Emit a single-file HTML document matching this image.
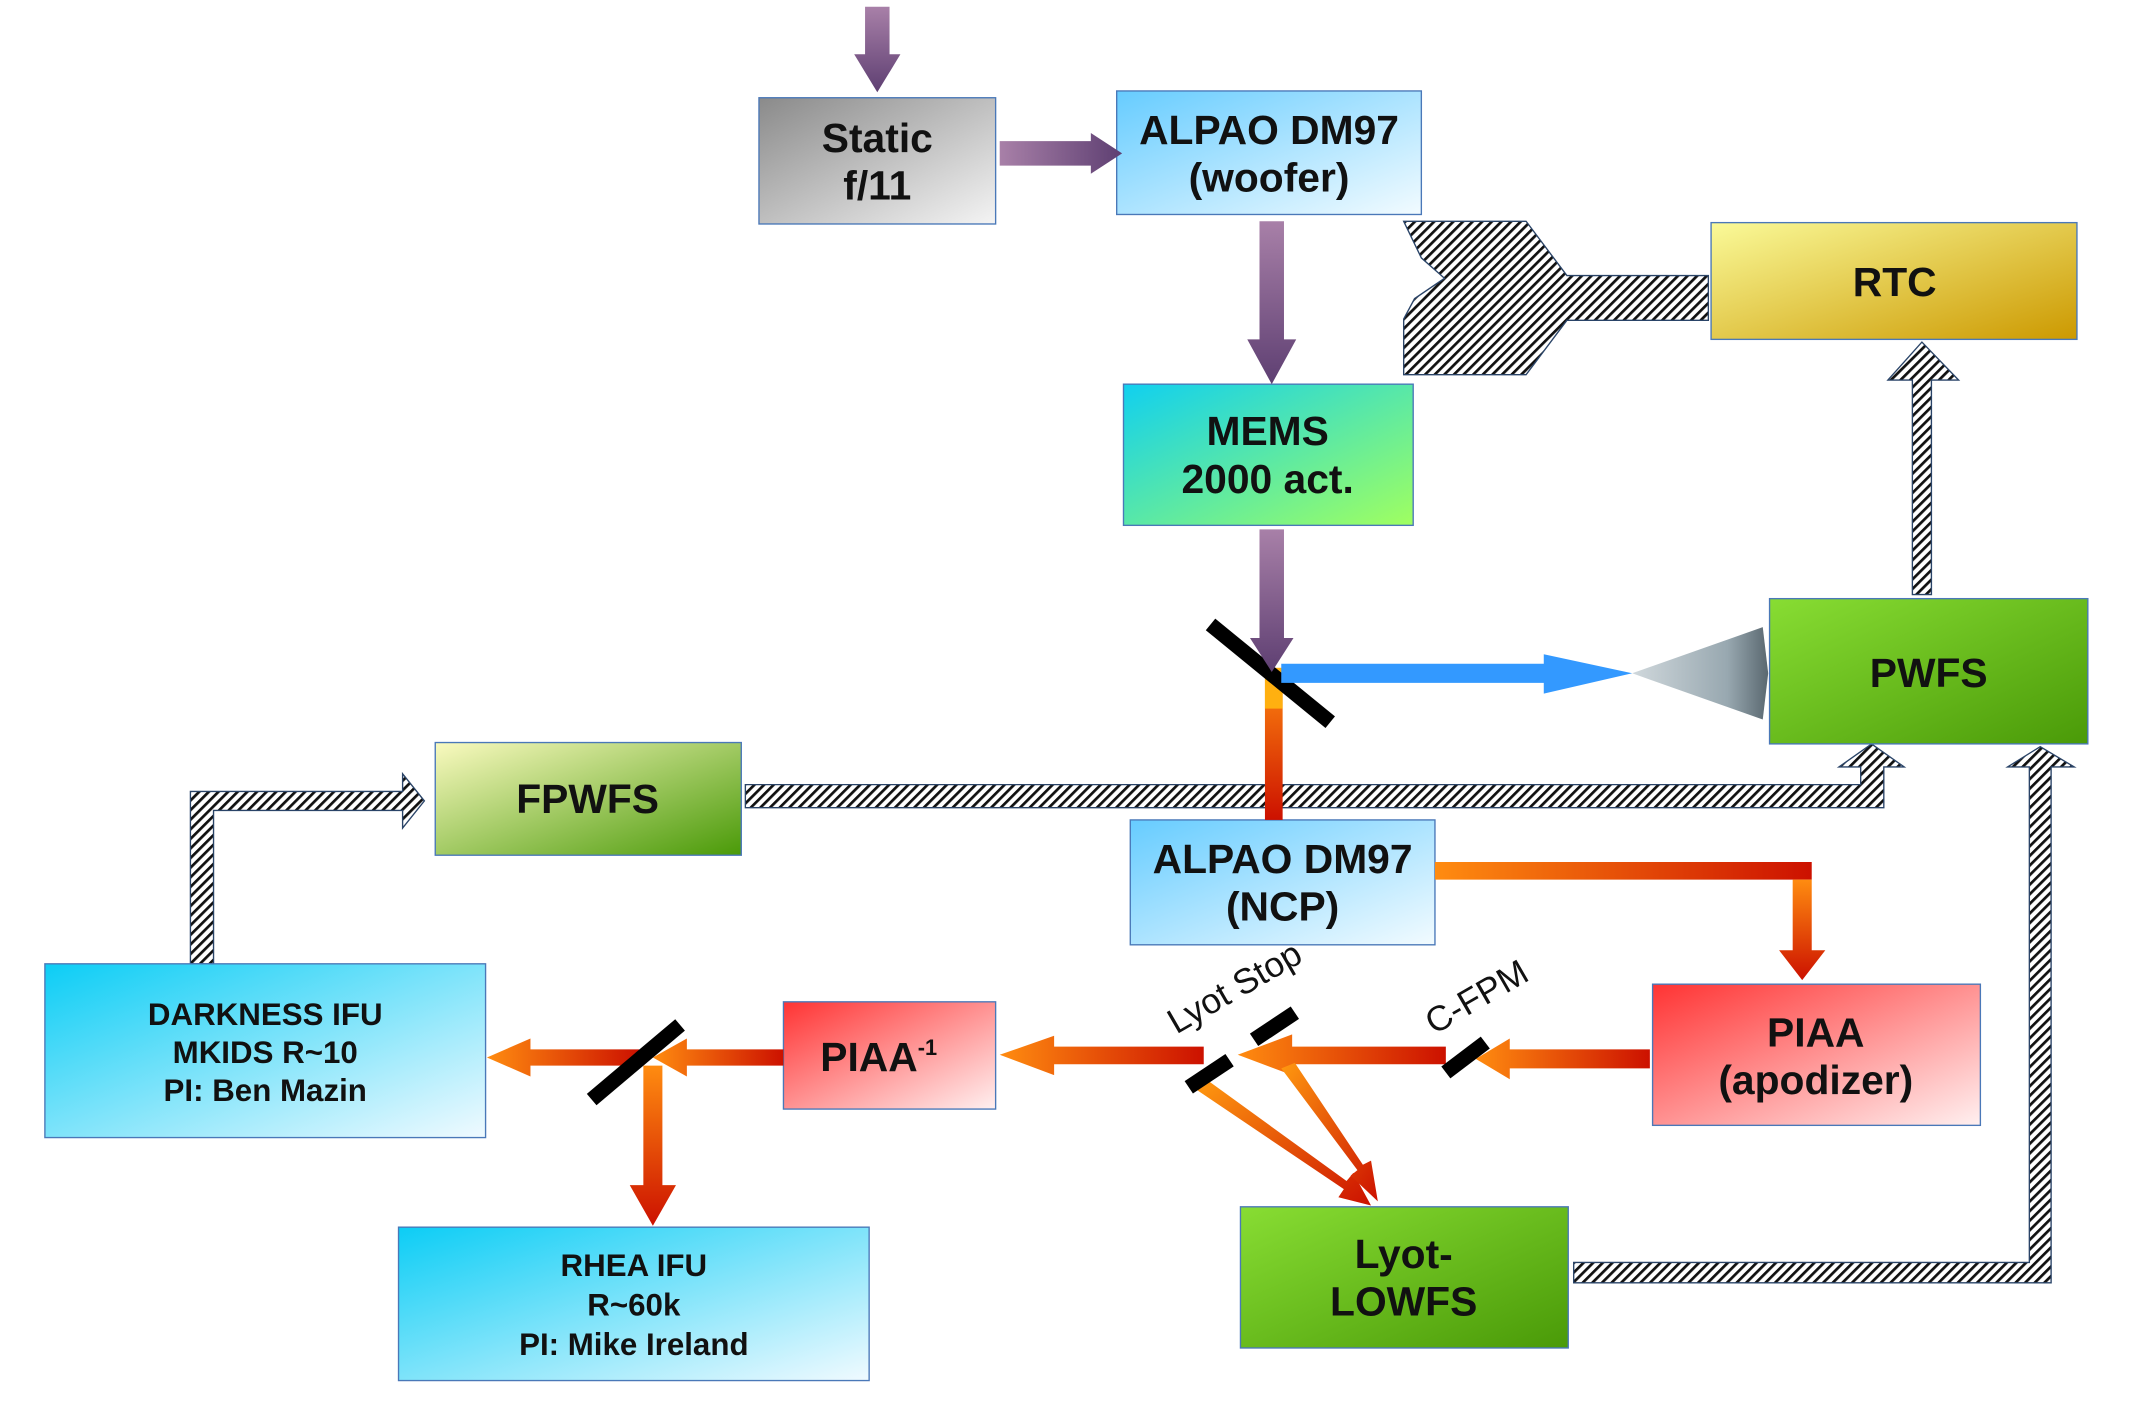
<!DOCTYPE html>
<html><head><meta charset="utf-8"><style>
html,body{margin:0;padding:0;background:#fff}
svg{display:block}
text{font-family:"Liberation Sans",sans-serif;font-weight:bold;fill:#111}
</style></head><body>
<svg width="2130" height="1424" viewBox="0 0 1566 1049" preserveAspectRatio="none" xmlns="http://www.w3.org/2000/svg">
<defs>
<pattern id="h" width="5" height="5" patternUnits="userSpaceOnUse" patternTransform="rotate(45)">
<rect width="5" height="5" fill="#fff"/><rect width="2" height="5" fill="#111"/></pattern>
<linearGradient id="gGray" x1="0" y1="0" x2="1" y2="1"><stop offset="0" stop-color="#8a8a8a"/><stop offset="1" stop-color="#f4f4f4"/></linearGradient>
<linearGradient id="gBlue" x1="0" y1="0" x2="1" y2="1"><stop offset="0" stop-color="#66ccff"/><stop offset="1" stop-color="#f2fbff"/></linearGradient>
<linearGradient id="gCyan" x1="0" y1="0" x2="1" y2="1"><stop offset="0" stop-color="#0ccdf5"/><stop offset="1" stop-color="#f0faff"/></linearGradient>
<linearGradient id="gMems" x1="0" y1="0" x2="1" y2="1"><stop offset="0" stop-color="#10d0f0"/><stop offset="1" stop-color="#a0ff60"/></linearGradient>
<linearGradient id="gGreen" x1="0" y1="0" x2="1" y2="1"><stop offset="0" stop-color="#88dd33"/><stop offset="1" stop-color="#4a9a08"/></linearGradient>
<linearGradient id="gFp" x1="0" y1="0" x2="1" y2="1"><stop offset="0" stop-color="#fafac0"/><stop offset="1" stop-color="#4a9a08"/></linearGradient>
<linearGradient id="gRtc" x1="0" y1="0" x2="1" y2="1"><stop offset="0" stop-color="#fafa99"/><stop offset="1" stop-color="#cc9900"/></linearGradient>
<linearGradient id="gRed" x1="0" y1="0" x2="1" y2="1"><stop offset="0" stop-color="#ff3333"/><stop offset="1" stop-color="#fff0f0"/></linearGradient>
<linearGradient id="gPurV" x1="0" y1="0" x2="0" y2="1"><stop offset="0" stop-color="#a880a8"/><stop offset="1" stop-color="#5e3f72"/></linearGradient>
<linearGradient id="gPurH" x1="0" y1="0" x2="1" y2="0"><stop offset="0" stop-color="#a880a8"/><stop offset="1" stop-color="#5e3f72"/></linearGradient>
<linearGradient id="gOrL" x1="0" y1="0" x2="1" y2="0"><stop offset="0" stop-color="#ff8c10"/><stop offset="1" stop-color="#cc1100"/></linearGradient>
<linearGradient id="gOrR" x1="1" y1="0" x2="0" y2="0"><stop offset="0" stop-color="#cc1100"/><stop offset="1" stop-color="#ff8c10"/></linearGradient>
<linearGradient id="gOrV" x1="0" y1="0" x2="0" y2="1"><stop offset="0" stop-color="#ff8c10"/><stop offset="1" stop-color="#cc1100"/></linearGradient>
<linearGradient id="gOrD" x1="0" y1="0" x2="1" y2="1"><stop offset="0" stop-color="#ff9910"/><stop offset="1" stop-color="#cc1100"/></linearGradient>
<linearGradient id="gCone" x1="0" y1="0" x2="1" y2="0"><stop offset="0" stop-color="#d0d8dc"/><stop offset="0.7" stop-color="#98a8b0"/><stop offset="1" stop-color="#5a6870"/></linearGradient>
</defs>

<g fill="url(#h)" stroke="#2a4468" stroke-width="1">
<polygon points="1256,203 1152,203 1122,163 1032,163 1045,190 1062,205 1040,220 1032,235 1032,276 1122,276 1152,236 1256,236"/>
<polygon points="1406,438 1420,438 1420,280 1440,280 1413,252 1388,280 1406,280"/>
<polygon points="548,578 1368,578 1368,565 1352,565 1376,548 1400,565 1385,565 1385,595 548,595"/>
<polygon points="140,710 157,710 157,597 296,597 296,610 312,590 296,570 296,583 140,583"/>
<polygon points="1157,930 1492,930 1492,565 1476,565 1500,550 1525,565 1508,565 1508,945 1157,945"/>
</g>

<g stroke="#4a78b8" stroke-width="1">
<rect x="558" y="72" width="174" height="93" fill="url(#gGray)"/>
<rect x="821" y="67" width="224" height="91" fill="url(#gBlue)"/>
<rect x="826" y="283" width="213" height="104" fill="url(#gMems)"/>
<rect x="1258" y="164" width="269" height="86" fill="url(#gRtc)"/>
<rect x="1301" y="441" width="234" height="107" fill="url(#gGreen)"/>
<rect x="320" y="547" width="225" height="83" fill="url(#gFp)"/>
<rect x="831" y="604" width="224" height="92" fill="url(#gBlue)"/>
<rect x="1215" y="725" width="241" height="104" fill="url(#gRed)"/>
<rect x="576" y="738" width="156" height="79" fill="url(#gRed)"/>
<rect x="33" y="710" width="324" height="128" fill="url(#gCyan)"/>
<rect x="293" y="904" width="346" height="113" fill="url(#gCyan)"/>
<rect x="912" y="889" width="241" height="104" fill="url(#gGreen)"/>
</g>

<polygon points="636,5 654,5 654,40 662,40 645,68 628,40 636,40" fill="url(#gPurV)"/>
<polygon points="735,104 802,104 802,98 825,113 802,128 802,122 735,122" fill="url(#gPurH)"/>
<polygon points="926,163 944,163 944,250 953,250 935,283 917,250 926,250" fill="url(#gPurV)"/>

<rect x="930" y="492" width="13" height="112" fill="url(#gOrV)"/>
<rect x="930" y="492" width="13" height="30" fill="#ffb010"/>

<line x1="890" y1="460" x2="978" y2="532" stroke="#000" stroke-width="11"/>
<polygon points="926,390 944,390 944,470 951,470 935,495 919,470 926,470" fill="url(#gPurV)"/>

<polygon points="942,489 1135,489 1135,482 1200,496 1135,511 1135,503 942,503" fill="#3399ff"/>
<polygon points="1200,496 1296,462 1300,496 1296,530" fill="url(#gCone)"/>

<polygon points="1055,635 1332,635 1332,648 1055,648" fill="url(#gOrL)"/>
<polygon points="1318,648 1332,648 1332,700 1342,700 1325,722 1308,700 1318,700" fill="url(#gOrV)"/>
<polygon points="1213,773 1110,773 1110,765 1085,780 1110,795 1110,787 1213,787" fill="url(#gOrR)"/>
<polygon points="1063,771 950,771 950,762 910,777 950,792 950,784 1063,784" fill="url(#gOrR)"/>
<polygon points="885,771 775,771 775,763 735,777 775,792 775,784 885,784" fill="url(#gOrR)"/>
<polygon points="576,773 505,773 505,765 480,779 505,793 505,785 576,785" fill="url(#gOrR)"/>
<polygon points="470,773 390,773 390,765 358,779 390,793 390,785 470,785" fill="url(#gOrR)"/>
<polygon points="473,785 487,785 487,873 497,873 480,903 463,873 473,873" fill="url(#gOrV)"/>
<polygon points="880,803 888,796 990,870 995,864 1008,888 984,882 988,876" fill="url(#gOrD)"/>
<polygon points="942,787 952,783 1002,858 1008,855 1013,885 993,866 998,862" fill="url(#gOrD)"/>

<line x1="435" y1="810" x2="500" y2="755" stroke="#000" stroke-width="11"/>
<line x1="1063" y1="790" x2="1092" y2="768" stroke="#000" stroke-width="11"/>
<line x1="922" y1="766" x2="952" y2="746" stroke="#000" stroke-width="11"/>
<line x1="874" y1="801" x2="904" y2="781" stroke="#000" stroke-width="11"/>

<text x="1090" y="742" font-size="26" style="font-weight:normal" text-anchor="middle" transform="rotate(-30 1090 742)">C-FPM</text>
<text x="912" y="735" font-size="26" style="font-weight:normal" text-anchor="middle" transform="rotate(-30 912 735)">Lyot Stop</text>

<g font-size="30" text-anchor="middle">
<text x="645" y="112">Static</text><text x="645" y="147">f/11</text>
<text x="933" y="106">ALPAO DM97</text><text x="933" y="141">(woofer)</text>
<text x="932" y="328">MEMS</text><text x="932" y="363">2000 act.</text>
<text x="1393" y="218">RTC</text>
<text x="1418" y="506">PWFS</text>
<text x="432" y="599">FPWFS</text>
<text x="943" y="643">ALPAO DM97</text><text x="943" y="678">(NCP)</text>
<text x="1335" y="771">PIAA</text><text x="1335" y="806">(apodizer)</text>
<text x="646" y="789">PIAA<tspan font-size="16" dy="-12">-1</tspan></text>
<text x="1032" y="934">Lyot-</text><text x="1032" y="969">LOWFS</text>
</g>
<g font-size="23" text-anchor="middle">
<text x="195" y="755">DARKNESS IFU</text><text x="195" y="783">MKIDS R~10</text><text x="195" y="811">PI: Ben Mazin</text>
<text x="466" y="940">RHEA IFU</text><text x="466" y="969">R~60k</text><text x="466" y="998">PI: Mike Ireland</text>
</g>
</svg>
</body></html>
